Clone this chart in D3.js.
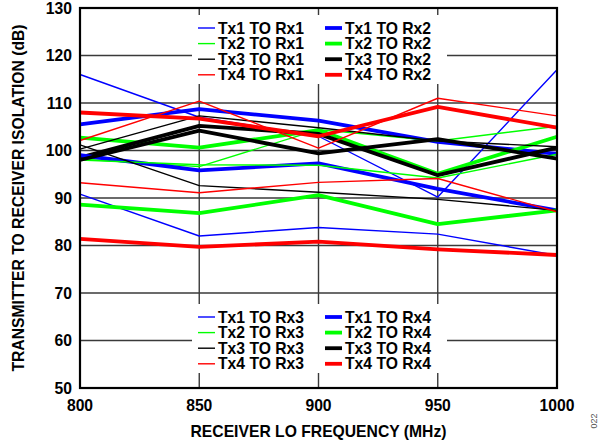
<!DOCTYPE html>
<html><head><meta charset="utf-8">
<script src="https://cdn.jsdelivr.net/npm/d3@7"></script>
<style>body{margin:0;background:#fff}svg{display:block}</style>
</head><body>
<svg id="c" width="600" height="444"></svg>
<script>
const freqs = [800, 850, 900, 950, 1000];
const yTicks = [50, 60, 70, 80, 90, 100, 110, 120, 130];
const xTicks = [800, 850, 900, 950, 1000];

const tx1Rx1 = [116.0, 107.0, 103.0, 90.2, 117.0];
const tx1Rx2 = [105.5, 108.7, 106.3, 101.8, 99.3];
const tx2Rx1 = [98.2, 96.6, 104.4, 102.0, 105.1];
const tx2Rx2 = [102.7, 100.6, 104.3, 95.1, 102.9];
const tx3Rx1 = [100.3, 107.3, 104.8, 102.0, 100.8];
const tx3Rx2 = [98.5, 105.2, 103.5, 94.8, 100.6];
const tx4Rx1 = [102.1, 110.4, 100.5, 111.0, 107.3];
const tx4Rx2 = [108.0, 106.7, 103.0, 109.2, 104.8];

const tx1Rx3 = [90.8, 82.0, 83.8, 82.4, 77.9];
const tx1Rx4 = [99.0, 95.8, 97.3, 91.9, 87.4];
const tx2Rx3 = [98.0, 97.0, 96.9, 94.2, 99.2];
const tx2Rx4 = [88.6, 86.8, 90.6, 84.5, 87.4];
const tx3Rx3 = [101.2, 92.6, 91.2, 89.7, 87.4];
const tx3Rx4 = [98.0, 104.2, 99.4, 102.4, 98.3];
const tx4Rx3 = [93.2, 91.1, 93.3, 94.1, 87.1];
const tx4Rx4 = [81.4, 79.7, 80.8, 79.2, 78.0];

const names = ["Tx1 TO Rx1","Tx1 TO Rx2","Tx2 TO Rx1","Tx2 TO Rx2","Tx3 TO Rx1","Tx3 TO Rx2","Tx4 TO Rx1","Tx4 TO Rx2",
               "Tx1 TO Rx3","Tx1 TO Rx4","Tx2 TO Rx3","Tx2 TO Rx4","Tx3 TO Rx3","Tx3 TO Rx4","Tx4 TO Rx3","Tx4 TO Rx4"];
const values = [tx1Rx1,tx1Rx2,tx2Rx1,tx2Rx2,tx3Rx1,tx3Rx2,tx4Rx1,tx4Rx2,
                tx1Rx3,tx1Rx4,tx2Rx3,tx2Rx4,tx3Rx3,tx3Rx4,tx4Rx3,tx4Rx4];
const colors = ["#0000ff","#0000ff","#00ff00","#00ff00","#000000","#000000","#ff0000","#ff0000"];

const series = names.map((n,i)=>({name:n, vals:values[i], color:colors[i%8], thick:(i%2===1)}));

const svg = d3.select("#c");
const L=80, R=557, T=8, B=388;
const x = d3.scaleLinear().domain([800,1000]).range([L,R]);
const y = d3.scaleLinear().domain([50,130]).range([B,T]);
const font = "'Liberation Sans', Arial, sans-serif";
const fs = 15.7;

// grid
svg.append("g").selectAll("line.h").data(yTicks.slice(1,-1)).join("line")
  .attr("x1",L).attr("x2",R).attr("y1",d=>y(d)).attr("y2",d=>y(d))
  .attr("stroke","#3a3a3a").attr("stroke-width",1.4);
svg.append("g").selectAll("line.v").data(xTicks.slice(1,-1)).join("line")
  .attr("y1",T).attr("y2",B).attr("x1",d=>x(d)).attr("x2",d=>x(d))
  .attr("stroke","#3a3a3a").attr("stroke-width",1.4);

// legend backgrounds
const legends = [{top:15, items:series.slice(0,8)}, {top:304, items:series.slice(8)}];
legends.forEach(lg=>{
  svg.append("rect").attr("x",192).attr("y",lg.top).attr("width",255).attr("height",69).attr("fill","#fff");
});

// lines
const line = d3.line().x((d,i)=>x(freqs[i])).y(d=>y(d));
svg.append("g").selectAll("path").data(series).join("path")
  .attr("d",d=>line(d.vals)).attr("fill","none")
  .attr("stroke",d=>d.color).attr("stroke-width",d=>d.thick?3.8:1.4)
  .attr("stroke-linejoin","round");

// legend content
legends.forEach(lg=>{
  lg.items.forEach((s,i)=>{
    const col = i%2, row = Math.floor(i/2);
    const cy = lg.top + 13 + row*15.6;
    const x0 = col===0 ? 198 : 325;
    svg.append("line").attr("x1",x0).attr("x2",x0+17).attr("y1",cy).attr("y2",cy)
      .attr("stroke",s.color).attr("stroke-width",s.thick?3.8:1.4);
    svg.append("text").attr("x",x0+20).attr("y",cy+5.5).text(s.name)
      .attr("font-family",font).attr("font-weight","bold").attr("font-size",fs).attr("fill","#000");
  });
});

// border
svg.append("rect").attr("x",L).attr("y",T).attr("width",R-L).attr("height",B-T)
  .attr("fill","none").attr("stroke","#000").attr("stroke-width",2.2);

// tick labels
svg.append("g").selectAll("text").data(yTicks).join("text")
  .attr("x",72).attr("y",d=>y(d)+5.5).attr("text-anchor","end").text(d=>d)
  .attr("font-family",font).attr("font-weight","bold").attr("font-size",fs);
svg.append("g").selectAll("text").data(xTicks).join("text")
  .attr("x",d=>x(d)).attr("y",411).attr("text-anchor","middle").text(d=>d)
  .attr("font-family",font).attr("font-weight","bold").attr("font-size",fs);

// titles
svg.append("text").attr("transform",`translate(24,${(T+B)/2}) rotate(-90)`).attr("text-anchor","middle")
  .text("TRANSMITTER TO RECEIVER ISOLATION (dB)")
  .attr("font-family",font).attr("font-weight","bold").attr("font-size",fs);
svg.append("text").attr("x",(L+R)/2).attr("y",437).attr("text-anchor","middle")
  .text("RECEIVER LO FREQUENCY (MHz)")
  .attr("font-family",font).attr("font-weight","bold").attr("font-size",fs);
svg.append("text").attr("transform","translate(597,421) rotate(-90)").attr("text-anchor","middle")
  .text("022").attr("font-family",font).attr("font-size",9).attr("fill","#555");
</script>
</body></html>
